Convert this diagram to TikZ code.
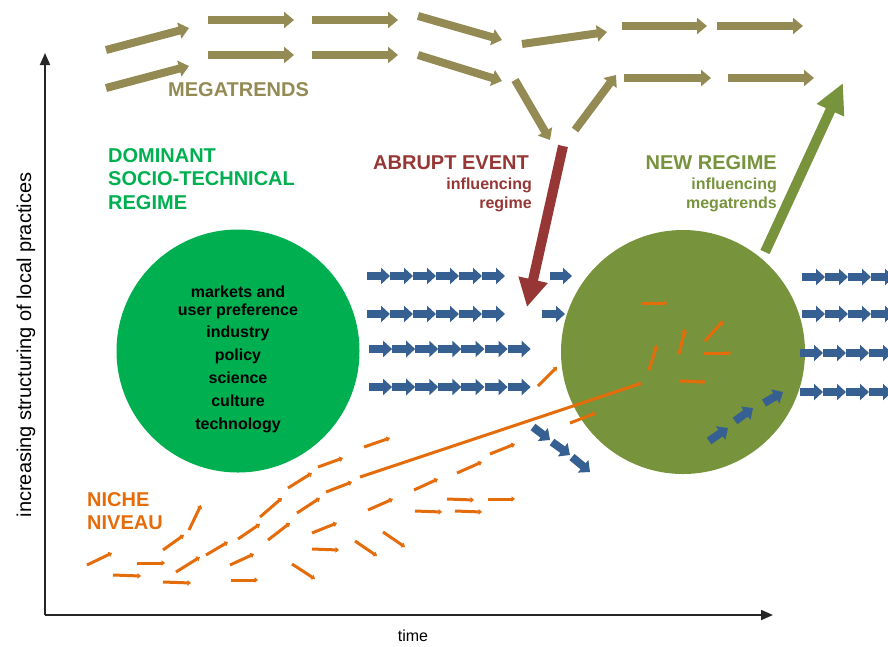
\documentclass[tikz,border=0pt]{standalone}
\usepackage{fontspec}
\setmainfont{Liberation Sans}
\usetikzlibrary{arrows.meta}
\definecolor{megaolive}{RGB}{148,138,84}
\definecolor{regimegreen}{RGB}{0,176,80}
\definecolor{newgreen}{RGB}{119,147,60}
\definecolor{eventred}{RGB}{150,55,53}
\definecolor{flowblue}{RGB}{55,96,146}
\definecolor{nicheorange}{RGB}{228,108,10}

\begin{document}
\begin{tikzpicture}[x=1pt, y=-1pt,
    mega/.style={line width=8pt, megaolive, -{Triangle[length=10pt,width=16pt]}},
    flow/.style={line width=8pt, flowblue, -{Triangle[length=9pt,width=16pt]}},
    niche/.style={line width=3pt, nicheorange, -{Triangle[length=3.5pt,width=5.5pt]}},
    axis/.style={line width=1.8pt, black!85, -{Triangle[length=12pt,width=10pt]}},
    title/.style={font=\fontsize{20}{23.5}\selectfont\bfseries, inner sep=0pt},
    sub/.style={font=\fontsize{16}{19}\selectfont\bfseries, inner sep=0pt},
    item/.style={font=\fontsize{16}{19}\selectfont\bfseries, inner sep=0pt}]
    \clip (0,0) rectangle (888,646);

    % Axes
    \coordinate (origin) at (45,615);
    \coordinate (ytip) at (45,53);
    \coordinate (xtip) at (773,615);
    \draw[axis] (origin) -- (ytip);
    \draw[axis] (origin) -- (xtip);
    \node[font=\fontsize{16}{19}\selectfont] (time) at (413,636) {time};
    \node[font=\fontsize{20}{23}\selectfont, rotate=90, anchor=base, inner sep=0pt] (ylabel) at (31,345) {increasing structuring of local practices};

    % Regimes
    \node[circle, fill=regimegreen, minimum size=243pt, inner sep=0pt] (regime) at (238,351) {};
    \node[circle, fill=newgreen, minimum size=244pt, inner sep=0pt] (newregime) at (683,352) {};
    \foreach \txt/\yy [count=\i] in {markets and/297, user preference/315, industry/337, policy/360, science/383, culture/406, technology/429}
        \node[item, anchor=base] (item\i) at (238,\yy) {\txt};

    % Megatrends
    \foreach \xa/\ya/\xb/\yb in {106/50/189/28, 106/88/189/66, 208/20/294/20, 208/55/294/55,
        312/20/398/20, 312/55/398/55, 418/16/502/40, 418/55/502/81, 522/44/607/32,
        622/26/707/26, 717/26/803/26, 515/80/550/140, 575/130/616/75,
        624/78/711/78, 728/78/814/78}
        \draw[mega] (\xa,\ya) -- (\xb,\yb);
    \node[title, megaolive, anchor=west] (megatrends) at (168,90) {MEGATRENDS};

    % Labels
    \node[title, regimegreen, anchor=west, align=left] (dominant) at (108,179) {DOMINANT\\SOCIO-TECHNICAL\\REGIME};
    \node[title, eventred, anchor=base east] (abrupt) at (529,169) {ABRUPT EVENT};
    \node[sub, eventred, anchor=north east, align=right] (abruptsub) at (532,178) {influencing\\regime};
    \node[title, newgreen, anchor=base east] (newtitle) at (777,169) {NEW REGIME};
    \node[sub, newgreen, anchor=north east, align=right] (newsub) at (777,178) {influencing\\megatrends};
    \node[title, nicheorange, anchor=west, align=left] (niche) at (87,511) {NICHE\\NIVEAU};

    % Abrupt event and feedback to megatrends
    \coordinate (eventtop) at (563,146);
    \coordinate (eventtip) at (527,307);
    \draw[line width=10pt, eventred, -{Triangle[length=28pt,width=28pt]}] (eventtop) -- (eventtip);
    \coordinate (feedstart) at (765,252);
    \coordinate (feedtip) at (843,83);
    \draw[line width=10pt, newgreen, -{Triangle[length=30pt,width=28pt]}] (feedstart) -- (feedtip);

    % Practices
    \foreach \yy in {276,314}
        \foreach \k in {0,...,5}
            \draw[flow] (367+23*\k,\yy) -- ++(23,0);
    \foreach \yy in {349,387}
        \foreach \k in {0,...,6}
            \draw[flow] (369+23.1*\k,\yy) -- ++(23.1,0);
    \draw[flow] (550,276) -- (572,276);
    \draw[flow] (542,314) -- (565,314);
    \foreach \yy/\xx in {277/802, 314/802, 353/800, 392/800}
        \foreach \k in {0,...,3}
            \draw[flow] (\xx+23*\k,\yy) -- ++(23,0);
    \foreach \xa/\ya/\xb/\yb in {533/427/550/440, 552/442/570/455, 572/457/590/472,
        709/441/728/428, 735/421/753/408, 764/403/783/392}
        \draw[flow] (\xa,\ya) -- (\xb,\yb);

    % Niches
    \foreach \xa/\ya/\xb/\yb in {87/565/112/553, 113/575/141/576, 137/563/165/563,
        163/550/184/535, 189/530/201/505, 163/582/191/583, 176/572/200/557,
        206/555/228/542, 238/539/260/524, 260/517/282/498, 288/488/312/473,
        318/467/343/458, 364/447/390/438, 230/565/254/554, 231/580/258/580,
        268/540/290/523, 297/513/320/498, 326/492/352/482, 292/564/315/579,
        312/549/339/550, 312/533/337/523, 355/541/377/556, 383/532/405/547,
        368/510/393/499, 414/490/438/479, 457/473/482/462, 490/454/515/444,
        415/511/442/512, 447/499/474/500, 455/511/482/512, 488/499/515/499,
        538/386/557/367, 570/423/596/413, 642/303/667/303, 649/370/657/345,
        679/354/685/329, 705/341/723/321, 704/353/731/353, 679/381/706/382,
        360/477/642/383}
        \draw[niche] (\xa,\ya) -- (\xb,\yb);
\end{tikzpicture}
\end{document}
